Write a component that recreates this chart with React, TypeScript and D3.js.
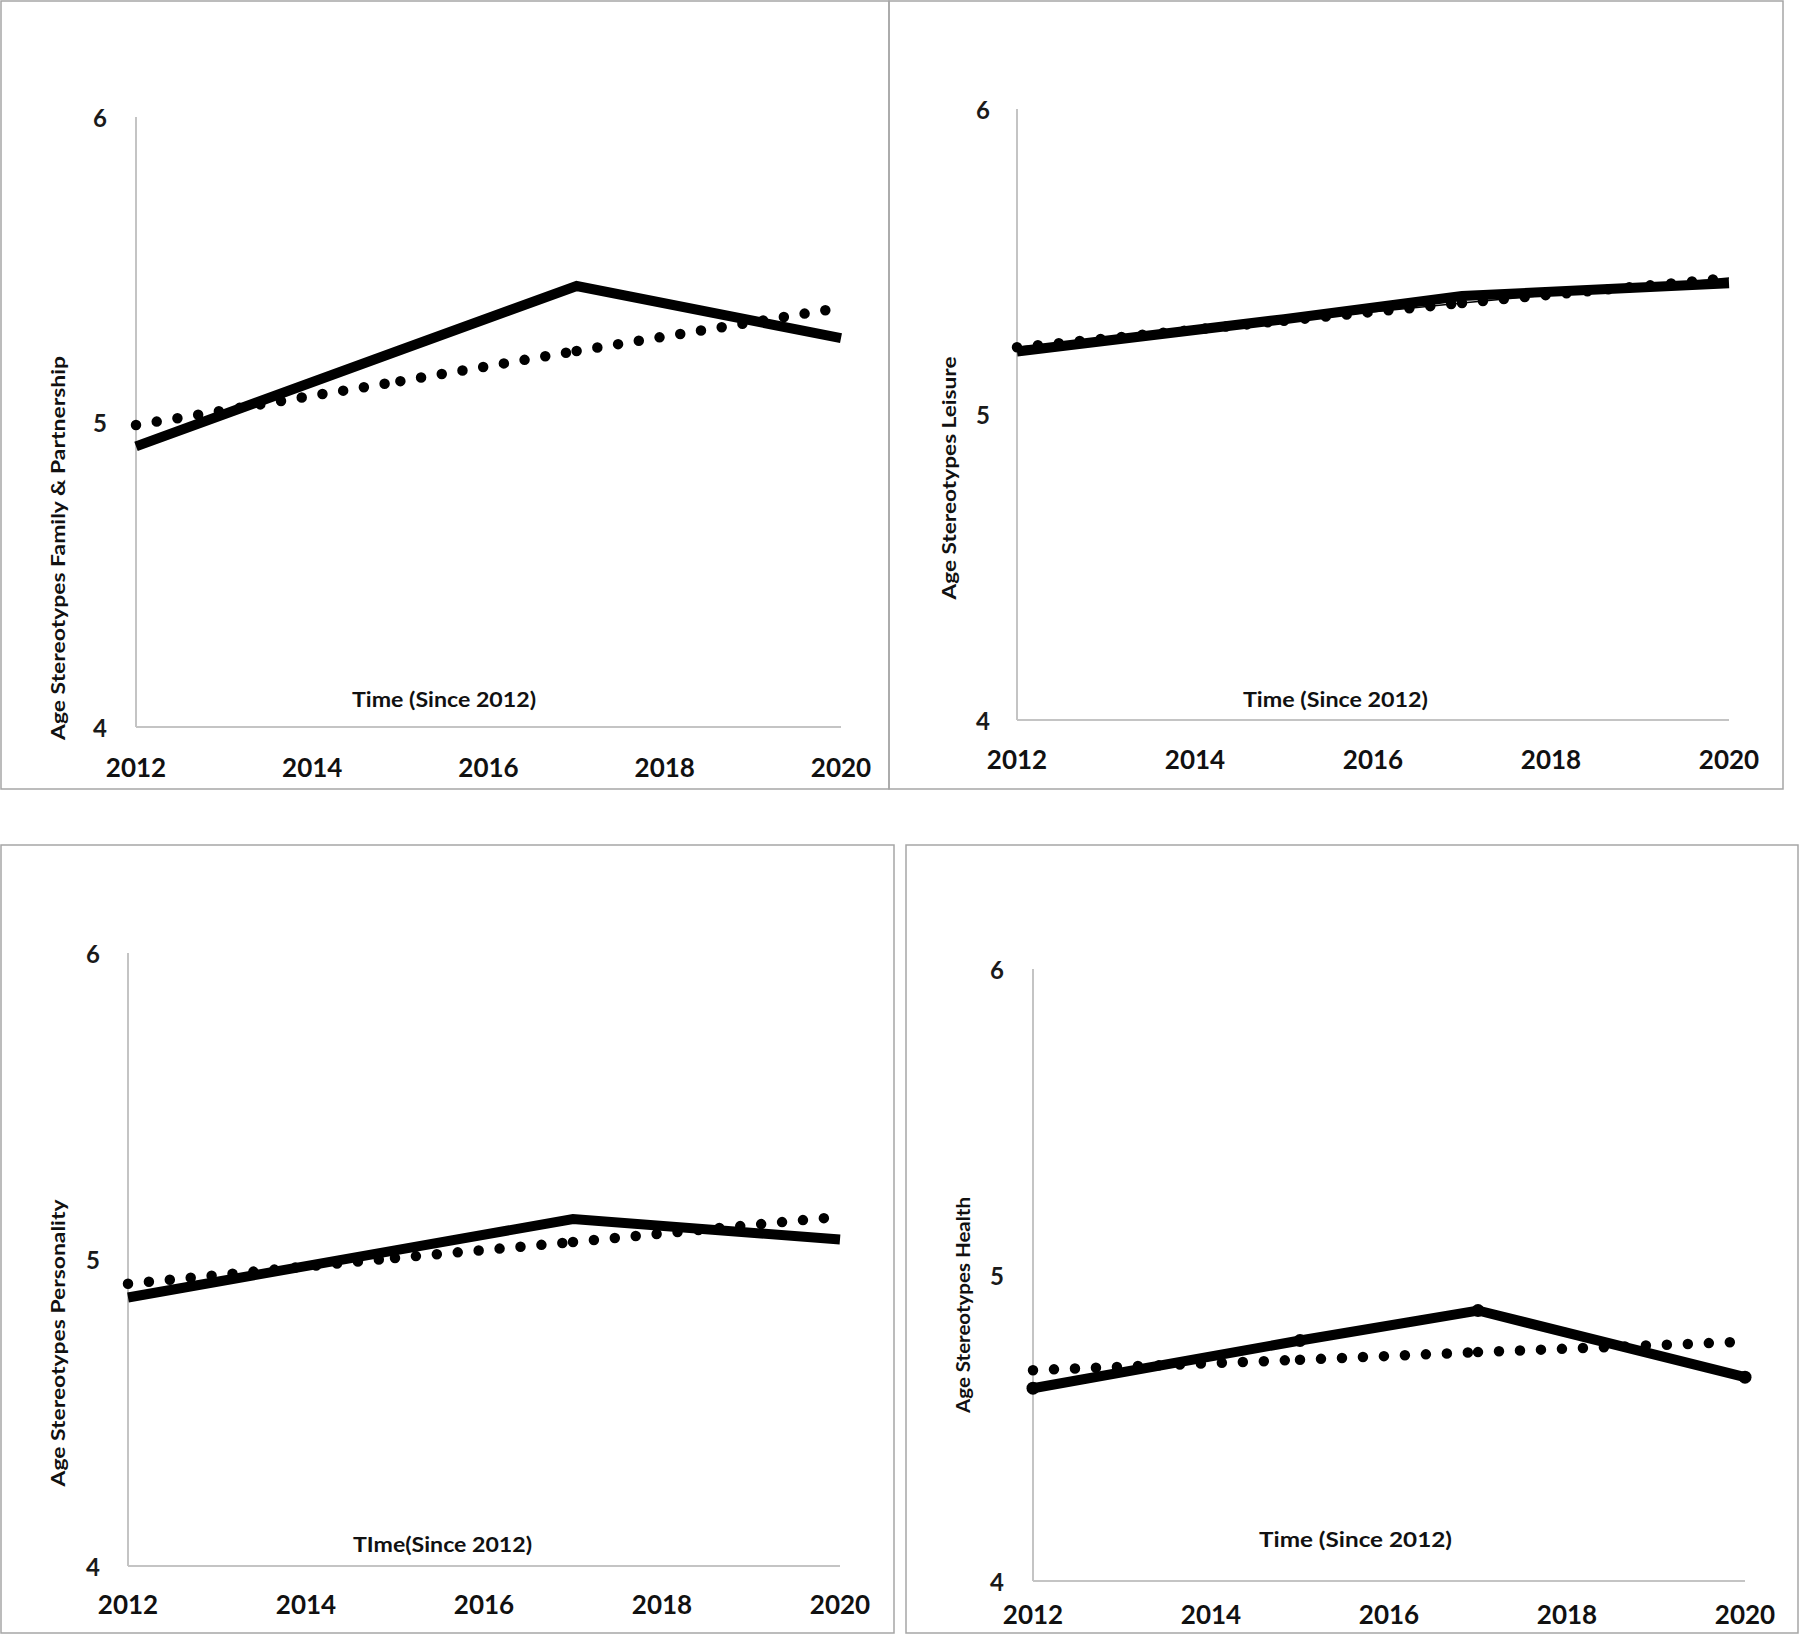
import React from "react";
import * as d3 from "d3";

// ---- data ----
const years = [2012, 2015, 2017, 2020];
const xTicks = [2012, 2014, 2016, 2018, 2020];
const yTicks = [4, 5, 6];

const familySolid = [4.92, 5.236, 5.446, 5.275];
const familyDotted = [4.99, 5.134, 5.233, 5.375];

const leisureSolid = [5.206, 5.312, 5.388, 5.43];
const leisureDotted = [5.22, 5.307, 5.365, 5.447];

const personalitySolid = [4.876, 5.03, 5.132, 5.065];
const personalityDotted = [4.921, 5.005, 5.057, 5.14];

const healthSolid = [4.63, 4.786, 4.884, 4.666];
const healthDotted = [4.689, 4.723, 4.748, 4.782];

const yTitles = [
  "Age Stereotypes Family & Partnership",
  "Age Stereotypes Leisure",
  "Age Stereotypes Personality",
  "Age Stereotypes Health",
];
const xTitles = ["Time (Since 2012)", "Time (Since 2012)", "TIme(Since 2012)", "Time (Since 2012)"];

// ---- layout ----
const panels = [
  {
    box: [1, 1, 889, 789], xl: 136, xr: 841, yt: 117, yb: 727,
    yLabX: 100, xLabY: 767, xtX: 352, xtY: 707, xtLen: 184,
    ytX: 57, ytY: 548, ytLen: 384, ytSize: 19,
    solid: familySolid, dotted: familyDotted, thin: false, markers: false,
  },
  {
    box: [889, 1, 1783, 789], xl: 1017, xr: 1729, yt: 109, yb: 720,
    yLabX: 983, xLabY: 759, xtX: 1243, xtY: 707, xtLen: 185,
    ytX: 948, ytY: 478, ytLen: 243, ytSize: 19,
    solid: leisureSolid, dotted: leisureDotted, thin: true, markers: false,
  },
  {
    box: [1, 845, 894, 1633], xl: 128, xr: 840, yt: 953, yb: 1566,
    yLabX: 93, xLabY: 1604, xtX: 353, xtY: 1552, xtLen: 179,
    ytX: 57, ytY: 1343, ytLen: 287, ytSize: 19,
    solid: personalitySolid, dotted: personalityDotted, thin: false, markers: false,
  },
  {
    box: [906, 845, 1798, 1633], xl: 1033, xr: 1745, yt: 969, yb: 1581,
    yLabX: 997, xLabY: 1614, xtX: 1259, xtY: 1547, xtLen: 193,
    ytX: 963, ytY: 1305, ytLen: 216, ytSize: 18,
    solid: healthSolid, dotted: healthDotted, thin: false, markers: true,
  },
];

const FONT = "Lato, 'Open Sans', sans-serif";

function Panel({ p }: { p: any }) {
  const x = d3.scaleLinear().domain([2012, 2020]).range([p.xl, p.xr]);
  const y = d3.scaleLinear().domain([4, 6]).range([p.yb, p.yt]);
  const line = d3
    .line<[number, number]>()
    .x((d) => x(d[0]))
    .y((d) => y(d[1]));
  const solidPts: [number, number][] = years.map((yr, i) => [yr, p.solid[i]]);
  const dotPts: [number, number][] = years.map((yr, i) => [yr, p.dotted[i]]);
  const segs = d3.pairs(dotPts);
  const [bx0, by0, bx1, by1] = p.box;
  return (
    <g>
      <rect x={bx0} y={by0} width={bx1 - bx0} height={by1 - by0} fill="none" stroke="#a6a6a6" strokeWidth={1.5} />
      <line x1={p.xl} x2={p.xl} y1={p.yt} y2={p.yb} stroke="#c4c4c4" strokeWidth={2} />
      <line x1={p.xl} x2={p.xr} y1={p.yb} y2={p.yb} stroke="#c4c4c4" strokeWidth={2} />
      {yTicks.map((t) => (
        <text key={"y" + t} x={p.yLabX} y={y(t)} textAnchor="middle" dominantBaseline="central"
          fontFamily={FONT} fontWeight="bold" fontSize={24} fill="#1a1a1a">{t}</text>
      ))}
      {xTicks.map((t) => (
        <text key={"x" + t} x={x(t)} y={p.xLabY} textAnchor="middle" dominantBaseline="central"
          fontFamily={FONT} fontWeight="bold" fontSize={26} fill="#111">{t}</text>
      ))}
      <text x={p.xtX} y={p.xtY} fontFamily={FONT} fontWeight="bold" fontSize={21} fill="#111"
        textLength={p.xtLen} lengthAdjust="spacingAndGlyphs">{p.xtitle}</text>
      <text transform={`translate(${p.ytX},${p.ytY}) rotate(-90)`} textAnchor="middle" dominantBaseline="central"
        fontFamily={FONT} fontWeight="bold" fontSize={p.ytSize} fill="#111"
        textLength={p.ytLen} lengthAdjust="spacingAndGlyphs">{p.ytitle}</text>
      {p.thin && <path d={line(dotPts) || ""} fill="none" stroke="#000" strokeWidth={1.5} />}
      {segs.map((s, i) => (
        <path key={"d" + i} d={line(s as [number, number][]) || ""} fill="none" stroke="#000" strokeWidth={10.5}
          strokeLinecap="round" strokeDasharray="0 21" />
      ))}
      <path d={line(solidPts) || ""} fill="none" stroke="#000" strokeWidth={10} strokeLinejoin="miter" strokeLinecap="butt" />
      {p.markers && solidPts.map((d, i) => (
        <circle key={"m" + i} cx={x(d[0])} cy={y(d[1])} r={6.5} fill="#000" />
      ))}
    </g>
  );
}

export default function App() {
  return (
    <div style={{ position: "absolute", left: 0, top: 0 }}>
      <svg width={1800} height={1635} style={{ display: "block", background: "#fff" }}>
        {panels.map((p, i) => (
          <Panel key={i} p={{ ...p, xtitle: xTitles[i], ytitle: yTitles[i] }} />
        ))}
      </svg>
    </div>
  );
}
